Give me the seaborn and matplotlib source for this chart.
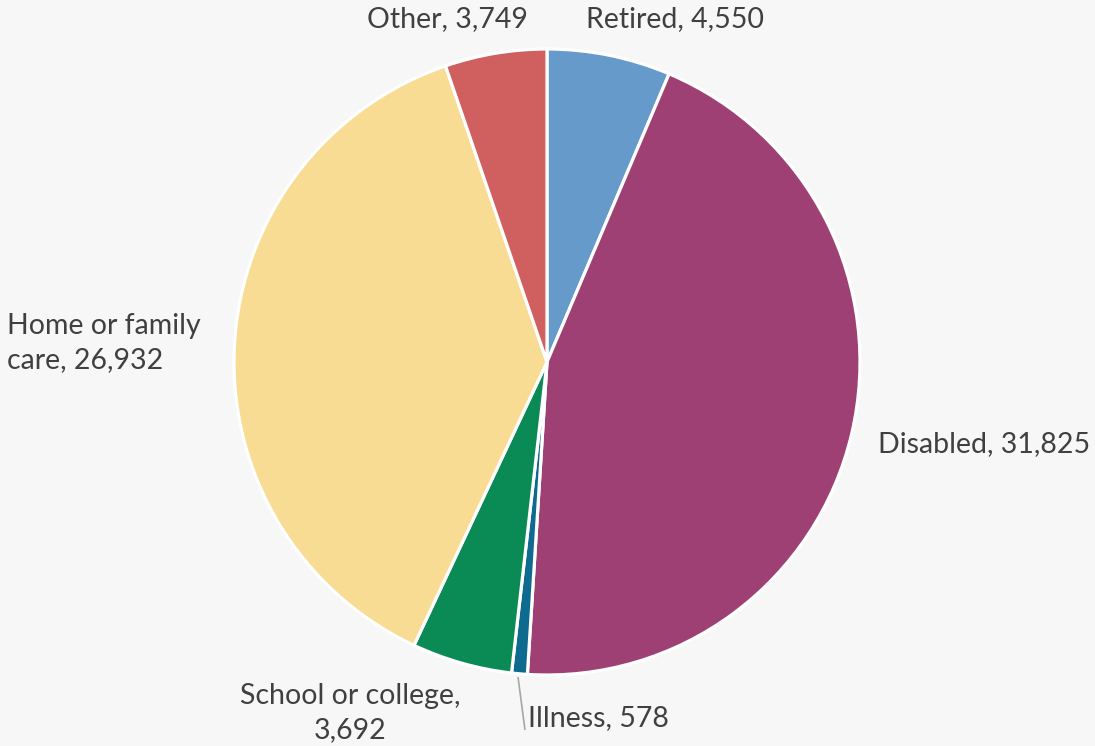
import matplotlib
matplotlib.use("Agg")
import matplotlib.pyplot as plt
import seaborn as sns
import numpy as np

sns.set_theme(style="white")
plt.rcParams['font.family'] = ['Lato', 'DejaVu Sans']

categories = ["Retired", "Disabled", "Illness", "School or college", "Home or family care", "Other"]
values = [4550, 31825, 578, 3692, 26932, 3749]
label_texts = ["Retired, 4,550", "Disabled, 31,825", "Illness, 578",
               "School or college,\n3,692", "Home or family\ncare, 26,932", "Other, 3,749"]
colors = ["#659ACB", "#9E4073", "#0E6A8F", "#0A8A55", "#F8DC93", "#D05F5F"]

W, H = 1095, 746
fig = plt.figure(figsize=(W / 100, H / 100), dpi=100)
fig.patch.set_facecolor("#f7f7f7")
ax = fig.add_axes([0, 0, 1, 1])
ax.set_facecolor("#f7f7f7")

cx, cy, r = 547, H - 362, 313
wedges, _ = ax.pie(values, colors=colors, startangle=90, counterclock=False,
                   center=(cx, cy), radius=r, frame=True,
                   wedgeprops=dict(edgecolor="white", linewidth=2.3))
ax.set_xlim(0, W)
ax.set_ylim(0, H)
ax.set_aspect("equal")
ax.axis("off")

# label layout (pixel positions, alignment)
layout = {
    "Retired": (675, H - 19, "center", "center"),
    "Disabled": (878, H - 444, "left", "center"),
    "Illness": (528, H - 718, "left", "center"),
    "School or college": (350, H - 713, "center", "center"),
    "Home or family care": (7, H - 343, "left", "center"),
    "Other": (447, H - 19, "center", "center"),
}
for cat, txt in zip(categories, label_texts):
    x, y, ha, va = layout[cat]
    ax.text(x, y, txt, ha=ha, va=va, fontsize=20.5, color="#404040", linespacing=1.35)

# leader line for Illness
ax.plot([518, 525], [H - 677, H - 730], color="#a6a6a6", lw=1.2, solid_capstyle="butt")

fig.savefig("out.png", dpi=100, facecolor=fig.get_facecolor())
